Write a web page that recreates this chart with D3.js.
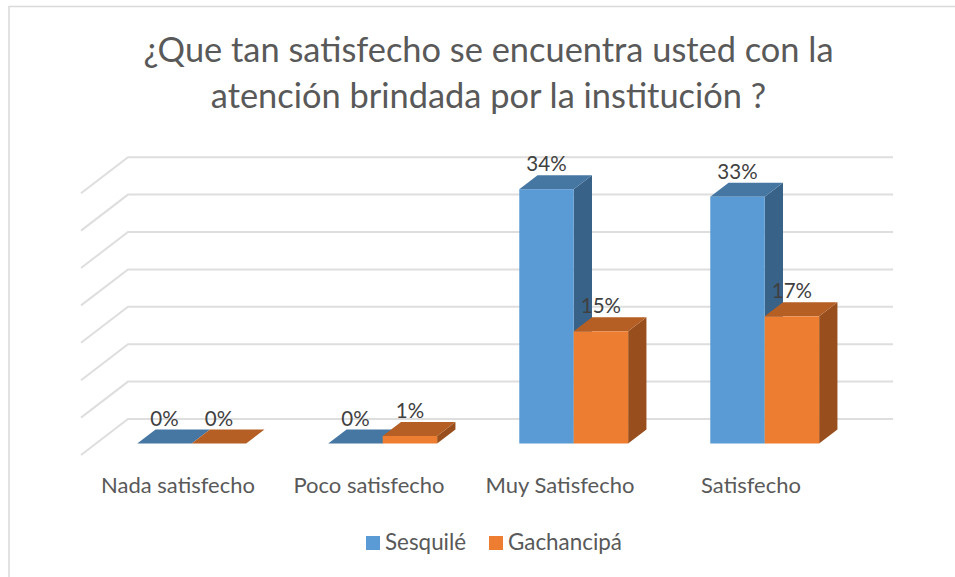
<!DOCTYPE html>
<html>
<head>
<meta charset="utf-8">
<script src="https://cdn.jsdelivr.net/npm/d3@7"></script>
<style>
  html, body { margin: 0; padding: 0; background: #fff; }
  svg { display: block; }
  text { font-family: Lato, "Open Sans", sans-serif; }
</style>
</head>
<body>
<div id="chart"></div>
<script>
var categories = ["Nada satisfecho", "Poco satisfecho", "Muy Satisfecho", "Satisfecho"];
var seriesNames = ["Sesquilé", "Gachancipá"];
var sesquile = [0, 0, 34, 33];
var gachancipa = [0, 1, 15, 17];
var yTicks = [0, 5, 10, 15, 20, 25, 30, 35];
var titleLines = ["¿Que tan satisfecho se encuentra usted con la", "atención brindada por la institución ?"];

var colors = {
  "Sesquilé": {front: "#5b9bd5", top: "#4677a3", side: "#386288"},
  "Gachancipá": {front: "#ed7d31", top: "#b55f25", side: "#994f1d"}
};

var width = 955, height = 577;

var svg = d3.select("#chart")
    .append("svg")
    .attr("width", width)
    .attr("height", height);

// chart frame, only left and top show in the picture
svg.append("path")
    .attr("d", "M9,577V6.5H955")
    .attr("fill", "none")
    .attr("stroke", "#d9d9d9")
    .attr("stroke-width", 1.5);

// front floor sits at y(0), bars are pushed in by half of the wall depth
var y = d3.scaleLinear().domain([0, 35]).range([443.5, 181.7]);

var x = d3.scaleBand()
    .domain(categories)
    .range([96.2, 860.2])
    .paddingInner(0.43)
    .paddingOuter(0.215);

var x1 = d3.scaleBand()
    .domain(seriesNames)
    .range([0, x.bandwidth()]);

// depth of one bar and of the back wall
var bar = {dx: 18.3, dy: 14};
var wall = {dx: 47, dy: 36, left: 81, right: 893, floor: 11.5};

// gridlines: slanted bit on the side wall, then along the back wall
svg.append("g").selectAll("path")
    .data(yTicks)
    .enter()
    .append("path")
    .attr("d", function (d) {
      var y0 = y(d) + wall.floor;
      return d3.line()([[wall.left, y0], [wall.left + wall.dx, y0 - wall.dy], [wall.right, y0 - wall.dy]]);
    })
    .attr("fill", "none")
    .attr("stroke", "#dedede")
    .attr("stroke-width", 2);

// flatten to one row per bar
var rows = [];
categories.forEach(function (c, i) {
  rows.push({cat: c, name: seriesNames[0], value: sesquile[i]});
  rows.push({cat: c, name: seriesNames[1], value: gachancipa[i]});
});

function poly(points) { return d3.line()(points) + "Z"; }

var bars = svg.append("g").selectAll("g")
    .data(rows)
    .enter()
    .append("g");

// side face
bars.append("path")
    .attr("d", function (d) {
      var xr = x(d.cat) + x1(d.name) + x1.bandwidth();
      return poly([[xr, y(d.value)], [xr + bar.dx, y(d.value) - bar.dy], [xr + bar.dx, y(0) - bar.dy], [xr, y(0)]]);
    })
    .attr("fill", function (d) { return colors[d.name].side; });

// top face
bars.append("path")
    .attr("d", function (d) {
      var xl = x(d.cat) + x1(d.name), xr = xl + x1.bandwidth(), t = y(d.value);
      return poly([[xl, t], [xl + bar.dx, t - bar.dy], [xr + bar.dx, t - bar.dy], [xr, t]]);
    })
    .attr("fill", function (d) { return colors[d.name].top; });

// front face
bars.append("rect")
    .attr("x", function (d) { return x(d.cat) + x1(d.name); })
    .attr("y", function (d) { return y(d.value); })
    .attr("width", x1.bandwidth())
    .attr("height", function (d) { return y(0) - y(d.value); })
    .attr("fill", function (d) { return colors[d.name].front; });

// data labels
svg.append("g").selectAll("text")
    .data(rows)
    .enter()
    .append("text")
    .attr("x", function (d) { return x(d.cat) + x1(d.name) + x1.bandwidth() / 2; })
    .attr("y", function (d) { return y(d.value) - 18; })
    .attr("text-anchor", "middle")
    .attr("font-size", 20.5)
    .attr("fill", "#404040")
    .text(function (d) { return d.value + "%"; });

// category labels through a bottom axis with no line and no ticks
var axisX = svg.append("g")
    .attr("transform", "translate(-13.7,477)")
    .call(d3.axisBottom(x).tickSize(0).tickPadding(0));
axisX.select(".domain").remove();
axisX.selectAll("text")
    .attr("font-size", 22)
    .attr("font-family", "Lato, 'Open Sans', sans-serif")
    .attr("fill", "#595959");

// title
svg.append("g").selectAll("text")
    .data(titleLines)
    .enter()
    .append("text")
    .attr("x", 488.5)
    .attr("y", function (d, i) { return 62 + i * 46; })
    .attr("text-anchor", "middle")
    .attr("font-size", 34.4)
    .attr("fill", "#595959")
    .text(function (d) { return d; });

// legend
var legendX = d3.scaleOrdinal().domain(seriesNames).range([366, 489]);
var legend = svg.append("g").selectAll("g")
    .data(seriesNames)
    .enter()
    .append("g")
    .attr("transform", function (d) { return "translate(" + legendX(d) + ",536)"; });
legend.append("rect")
    .attr("width", 14)
    .attr("height", 14)
    .attr("fill", function (d) { return colors[d].front; });
legend.append("text")
    .attr("x", 19)
    .attr("y", 14)
    .attr("font-size", 22.4)
    .attr("fill", "#595959")
    .text(function (d) { return d; });
</script>
</body>
</html>
